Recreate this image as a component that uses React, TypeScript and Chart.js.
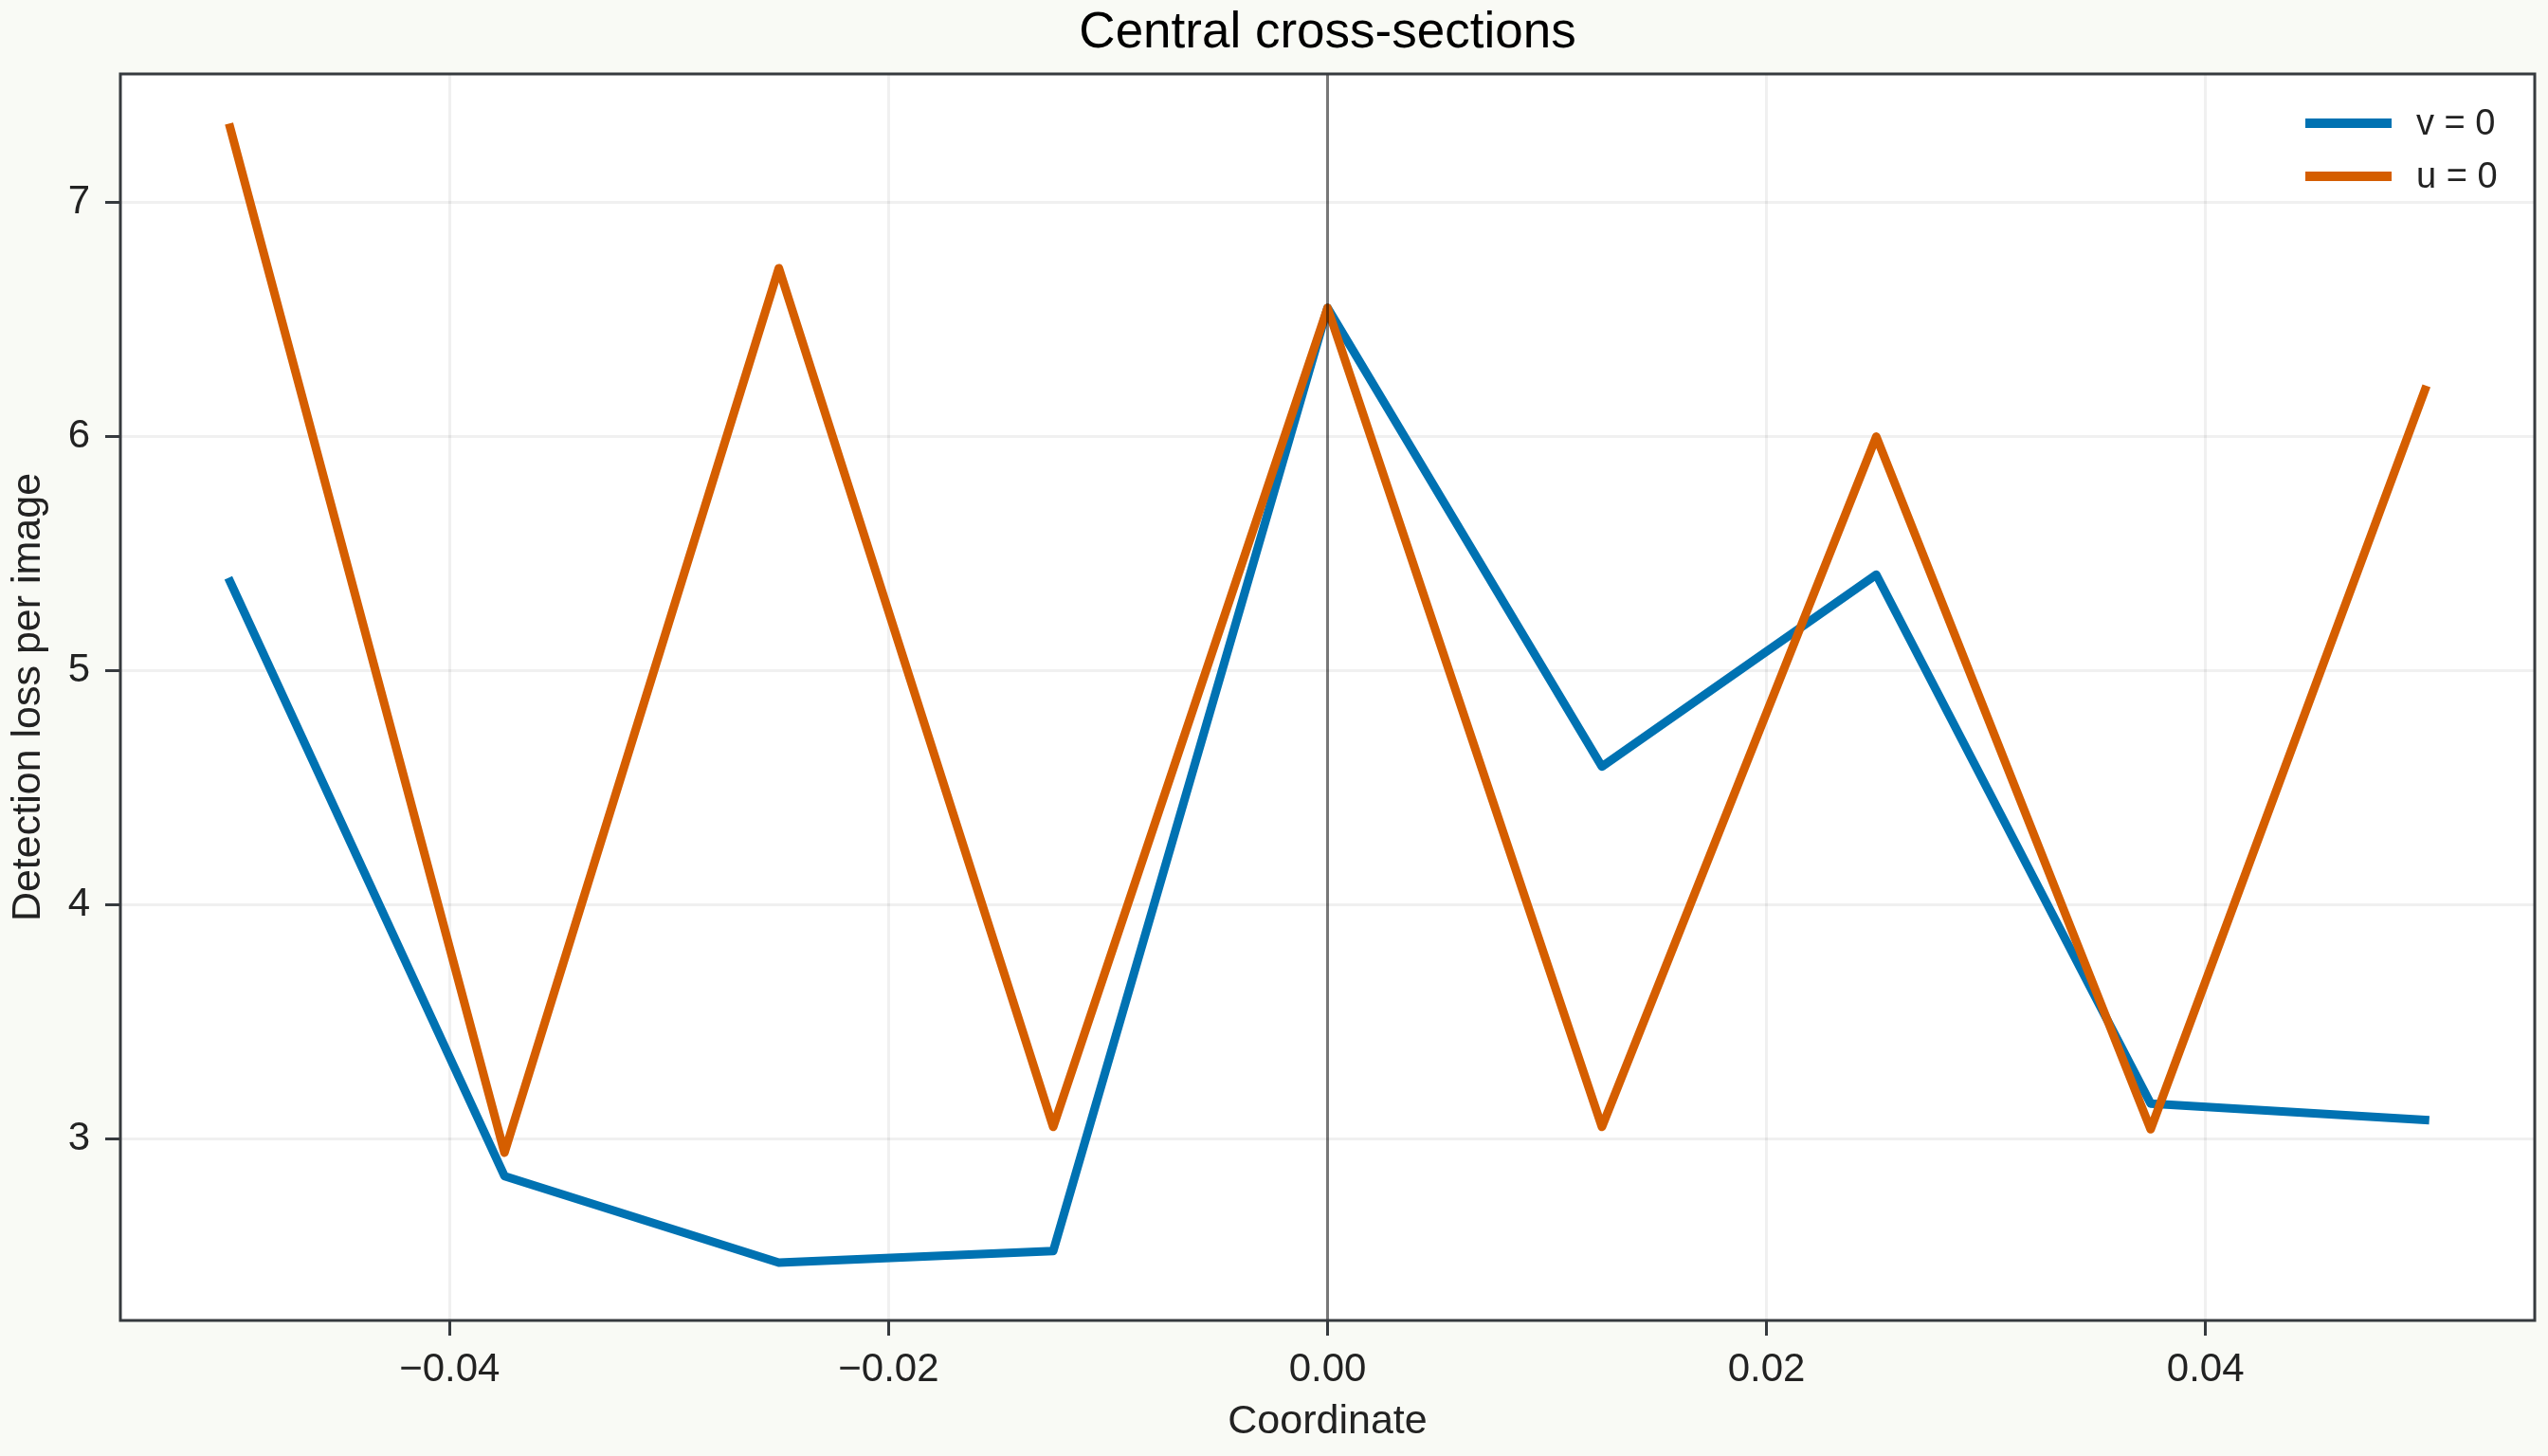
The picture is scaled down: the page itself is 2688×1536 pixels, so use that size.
import React, { useEffect, useRef } from "react";
import { Chart, registerables } from "chart.js";

Chart.register(...registerables);

// sample positions along the cross-section
const coords = [-0.05, -0.0375, -0.025, -0.0125, 0, 0.0125, 0.025, 0.0375, 0.05];
// loss along v = 0 and u = 0
const vZero = [5.38, 2.84, 2.47, 2.52, 6.55, 4.59, 5.41, 3.15, 3.08];
const uZero = [7.32, 2.94, 6.72, 3.05, 6.55, 3.05, 6.0, 3.04, 6.2];

const xTicks = [-0.04, -0.02, 0, 0.02, 0.04];
const yTicks = [3, 4, 5, 6, 7];
const seriesNames = ["v = 0", "u = 0"];
const seriesColors = ["#0072b2", "#d55e00"];

const FONT = "'Liberation Sans', Arial, sans-serif";
const AXIS = "#363a3e";

const fmtX = (v: number) => (v < 0 ? "\u2212" : "") + Math.abs(v).toFixed(2);

const decor = {
  id: "decor",
  beforeDraw(chart: any) {
    const { ctx, chartArea: a, width, height } = chart;
    ctx.save();
    ctx.fillStyle = "#f9faf5";
    ctx.fillRect(0, 0, width, height);
    ctx.fillStyle = "#ffffff";
    ctx.fillRect(a.left, a.top, a.right - a.left, a.bottom - a.top);
    ctx.restore();
  },
  afterDatasetsDraw(chart: any) {
    const { ctx, chartArea: a, scales } = chart;
    const x0 = scales.x.getPixelForValue(0);
    ctx.save();
    // reference line at zero
    ctx.strokeStyle = "rgba(0,0,0,0.5)";
    ctx.lineWidth = 3;
    ctx.beginPath();
    ctx.moveTo(x0, a.top);
    ctx.lineTo(x0, a.bottom);
    ctx.stroke();
    // frame
    ctx.strokeStyle = AXIS;
    ctx.lineWidth = 3;
    ctx.strokeRect(a.left, a.top, a.right - a.left, a.bottom - a.top);
    // legend
    ctx.font = "38px " + FONT;
    ctx.textBaseline = "middle";
    ctx.textAlign = "left";
    seriesNames.forEach((name, i) => {
      const y = a.top + 52 + i * 56;
      ctx.fillStyle = seriesColors[i];
      ctx.fillRect(a.right - 242, y - 5, 91, 10);
      ctx.fillStyle = "#222222";
      ctx.fillText(name, a.right - 125, y + 2);
    });
    ctx.restore();
  },
};

const App = () => {
  const canvasRef = useRef<HTMLCanvasElement>(null);

  useEffect(() => {
    document.body.style.margin = "0";
    if (!canvasRef.current) return;

    const chart = new Chart(canvasRef.current, {
      type: "line",
      data: {
        datasets: [
          {
            label: seriesNames[0],
            data: coords.map((x, i) => ({ x, y: vZero[i] })),
            borderColor: seriesColors[0],
            borderWidth: 9,
            pointRadius: 0,
            borderJoinStyle: "round",
            borderCapStyle: "square",
            order: 2,
          },
          {
            label: seriesNames[1],
            data: coords.map((x, i) => ({ x, y: uZero[i] })),
            borderColor: seriesColors[1],
            borderWidth: 9,
            pointRadius: 0,
            borderJoinStyle: "round",
            borderCapStyle: "square",
            order: 1,
          },
        ],
      },
      options: {
        animation: false,
        responsive: false,
        devicePixelRatio: 1,
        layout: { padding: { right: 14 } },
        plugins: {
          legend: { display: false },
          tooltip: { enabled: false },
          title: {
            display: true,
            text: "Central cross-sections",
            color: "#000000",
            fullSize: false,
            font: { family: FONT, size: 53, weight: "normal", lineHeight: 1 },
            padding: { top: 9, bottom: 16 },
          },
        },
        scales: {
          x: {
            type: "linear",
            min: -0.055,
            max: 0.055,
            afterBuildTicks: (s: any) => {
              s.ticks = xTicks.map((value) => ({ value }));
            },
            afterFit: (s: any) => {
              s.height = 143;
            },
            ticks: {
              autoSkip: false,
              maxRotation: 0,
              padding: 15,
              color: "#222222",
              font: { family: FONT, size: 42, lineHeight: 1 },
              callback: (v: any) => fmtX(Number(v)),
            },
            grid: {
              color: "rgba(0,0,0,0.06)",
              lineWidth: 3,
              tickLength: 16,
              tickColor: AXIS,
              tickWidth: 3,
            },
            border: { display: false },
            title: {
              display: true,
              text: "Coordinate",
              color: "#222222",
              font: { family: FONT, size: 43, lineHeight: 1 },
              padding: { top: 0, bottom: 14 },
            },
          },
          y: {
            type: "linear",
            min: 2.223,
            max: 7.55,
            afterBuildTicks: (s: any) => {
              s.ticks = yTicks.map((value) => ({ value }));
            },
            afterFit: (s: any) => {
              s.width = 127;
            },
            ticks: {
              padding: 16,
              color: "#222222",
              font: { family: FONT, size: 42, lineHeight: 1 },
              callback: (v: any) => String(v),
            },
            grid: {
              color: "rgba(0,0,0,0.06)",
              lineWidth: 3,
              tickLength: 16,
              tickColor: AXIS,
              tickWidth: 3,
            },
            border: { display: false },
            title: {
              display: true,
              text: "Detection loss per image",
              color: "#222222",
              font: { family: FONT, size: 43, lineHeight: 1 },
              padding: { top: 9, bottom: 0 },
            },
          },
        },
      },
      plugins: [decor],
    } as any);

    return () => {
      chart.destroy();
    };
  }, []);

  return (
    <div style={{ width: "2688px", height: "1536px" }}>
      <canvas ref={canvasRef} width={2688} height={1536} style={{ display: "block" }}></canvas>
    </div>
  );
};

export default App;
